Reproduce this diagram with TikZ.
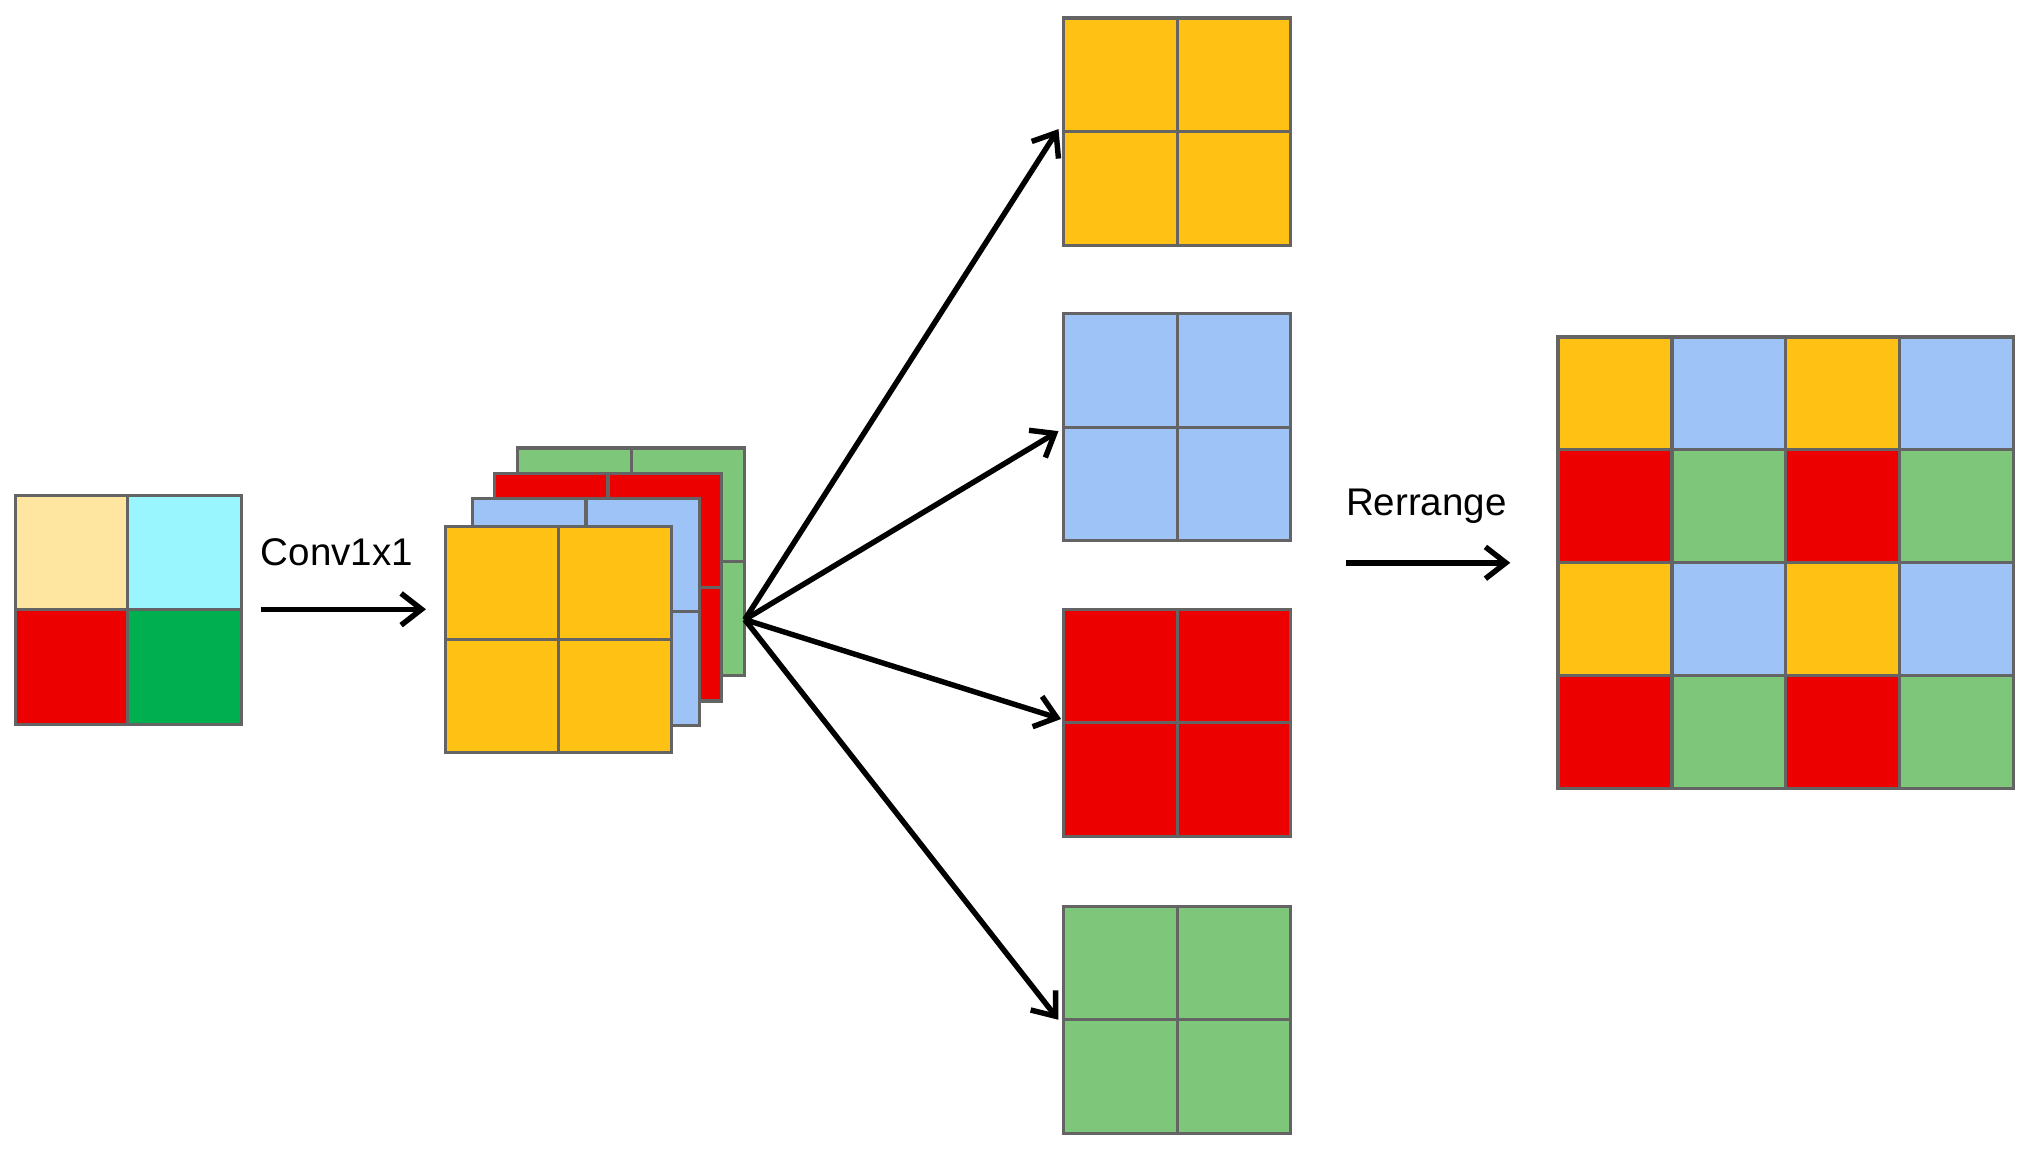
\documentclass[tikz,border=0pt]{standalone}
\usepackage{fontspec}
\setmainfont{Liberation Sans}
\begin{document}
\definecolor{cOr}{RGB}{255,194,20}
\definecolor{cBl}{RGB}{157,195,247}
\definecolor{cRd}{RGB}{236,0,0}
\definecolor{cGr}{RGB}{125,198,122}
\definecolor{cCr}{RGB}{255,230,160}
\definecolor{cCy}{RGB}{153,246,255}
\definecolor{cDg}{RGB}{0,176,80}
\definecolor{cLn}{RGB}{100,100,100}
\begin{tikzpicture}[x=0.02cm,y=-0.02cm,
  cell/.style={draw=cLn,line width=1.4pt},
  arr/.style={->,line width=2.4pt,>={Straight Barb[length=9pt,width=14pt]}},
  lbl/.style={font=\fontsize{17}{20}\selectfont}]
\usetikzlibrary{arrows.meta}
\useasboundingbox (0,0) rectangle (1568,890);
% grid of 2x2 with same colour
\newcommand{\mygrid}[4]{% x y size colour
  \fill[#4] (#1,#2) rectangle ++(#3,#3);
  \draw[cell] (#1,#2) rectangle ++(#3,#3);
  \draw[cell] (#1+#3/2,#2) -- ++(0,#3);
  \draw[cell] (#1,#2+#3/2) -- ++(#3,0);}
% input
\fill[cCr] (12,384) rectangle (99,472);
\fill[cCy] (99,384) rectangle (187,472);
\fill[cRd] (12,472) rectangle (99,561);
\fill[cDg] (99,472) rectangle (187,561);
\draw[cell] (12,384) rectangle (187,561);
\draw[cell] (99,384) -- (99,561);
\draw[cell] (12,472) -- (187,472);
\coordinate (c1) at (202,472); \coordinate (c2) at (330,472);
\draw[arr] (c1) -- (c2);
\node[lbl] (conv) at (261,428) {Conv1x1};
% stack
\mygrid{401}{347}{176}{cGr}
\mygrid{383}{367}{176}{cRd}
\mygrid{366}{386}{176}{cBl}
\mygrid{345}{408}{175}{cOr}
\coordinate (src) at (577,480);
% four grids
\mygrid{824}{14}{176}{cOr}
\mygrid{824}{243}{176}{cBl}
\mygrid{824}{472}{176}{cRd}
\mygrid{824}{702}{176}{cGr}
\coordinate (t1) at (820,100); \coordinate (t2) at (820,334);
\coordinate (t3) at (822,557); \coordinate (t4) at (820,790);
\foreach \t in {t1,t2,t3,t4} \draw[arr] (src) -- (\t);
% rearrange
\node[lbl] (rr) at (1105,392) {Rerrange};
\coordinate (r1) at (1043,436); \coordinate (r2) at (1170,436);
\draw[arr] (r1) -- (r2);
% output
\foreach \i in {0,1,2,3} \foreach \j in {0,1,2,3} {
  \pgfmathtruncatemacro{\a}{mod(\i,2)}\pgfmathtruncatemacro{\b}{mod(\j,2)}
  \ifnum\a=0 \ifnum\b=0 \def\cc{cOr}\else\def\cc{cBl}\fi
  \else \ifnum\b=0 \def\cc{cRd}\else\def\cc{cGr}\fi\fi
  \fill[\cc] (1207+\j*88.25,261+\i*87.5) rectangle ++(88.25,87.5);
  \draw[cell] (1207+\j*88.25,261+\i*87.5) rectangle ++(88.25,87.5);}
\end{tikzpicture}
\end{document}
